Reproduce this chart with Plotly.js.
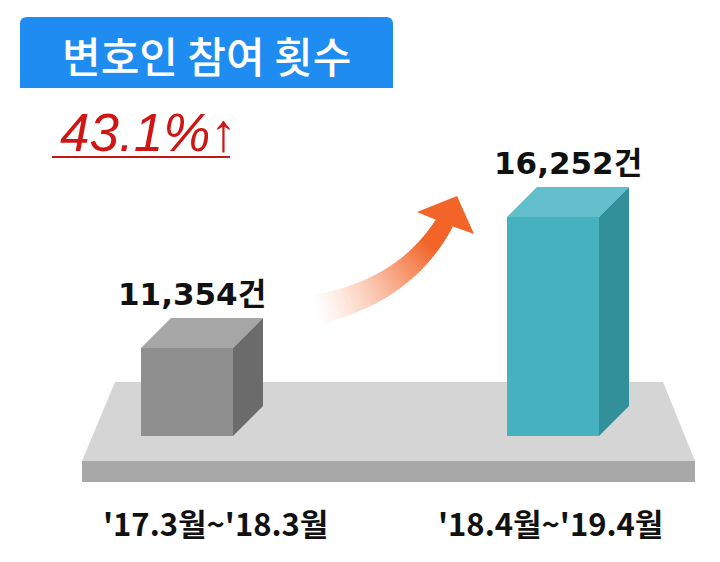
<!DOCTYPE html>
<html>
<head>
<meta charset="utf-8">
<script src="https://cdn.plot.ly/plotly-3.0.1.min.js"></script>
<style>html,body{margin:0;padding:0;background:#fff}#chart{width:720px;height:562px}</style>
</head>
<body>
<div id="chart"></div>
<script>
// ---- data ----
const categories = ["'17.3월~'18.3월", "'18.4월~'19.4월"];
const counts = [11354, 16252];
const unit = '건';
const titleText = '변호인 참여 횟수';

// ---- layout constants (pixels) ----
const W = 720, H = 562;
const barCenterPx = [187, 553];
const pxPerUnitX = barCenterPx[1] - barCenterPx[0];
const barWidthPx = 92;
const depthPx = 30;
const baseValue = 8064, basePx = 436, unitsPerPx = 37.39;
const frontColors = ['#8f8f8f', '#46b1bf'];
const topColors = ['#a6a6a6', '#63bfcb'];
const sideColors = ['#6b6b6b', '#32909a'];
const labelShiftPx = [28, -3];
const valueShiftPx = [-10, 0];

const px = x => x / W, py = y => 1 - y / H;
const xRange = [-barCenterPx[0] / pxPerUnitX, (W - barCenterPx[0]) / pxPerUnitX];
const yRange = [baseValue - (H - basePx) * unitsPerPx, baseValue + basePx * unitsPerPx];
const bw = barWidthPx / pxPerUnitX, dxU = depthPx / pxPerUnitX, dyU = depthPx * unitsPerPx;
const xs = categories.map((c, i) => i);

const traces = [{
  type: 'bar', x: xs, y: counts.map(v => v - baseValue), base: counts.map(() => baseValue),
  width: bw, marker: {color: frontColors, line: {width: 0}},
  customdata: counts, hovertemplate: '%{customdata:,}' + unit + '<extra></extra>'
}];
counts.forEach((v, i) => {
  const l = i - bw / 2, r = i + bw / 2;
  traces.push({type: 'scatter', mode: 'lines', fill: 'toself', fillcolor: topColors[i], line: {width: 0},
    x: [l, r, r + dxU, l + dxU, l], y: [v, v, v + dyU, v + dyU, v], hoverinfo: 'skip'});
  traces.push({type: 'scatter', mode: 'lines', fill: 'toself', fillcolor: sideColors[i], line: {width: 0},
    x: [r, r, r + dxU, r + dxU, r], y: [baseValue, v, v + dyU, baseValue + dyU, baseValue], hoverinfo: 'skip'});
});

// ---- decorative shapes ----
const P = pts => 'M' + pts.map(p => px(p[0]) + ',' + py(p[1])).join(' L') + ' Z';
const shapes = [];
shapes.push({type: 'path', xref: 'paper', yref: 'paper', layer: 'below', line: {width: 0}, fillcolor: '#1f8cf2',
  path: `M${px(20)},${py(88)} L${px(20)},${py(24)} Q${px(20)},${py(17)} ${px(27)},${py(17)} L${px(386)},${py(17)} Q${px(393)},${py(17)} ${px(393)},${py(24)} L${px(393)},${py(88)} Z`});
shapes.push({type: 'path', xref: 'paper', yref: 'paper', layer: 'below', line: {width: 0}, fillcolor: '#d5d5d5',
  path: P([[115, 382], [663, 382], [695, 461], [82, 461]])});
shapes.push({type: 'path', xref: 'paper', yref: 'paper', layer: 'below', line: {width: 0}, fillcolor: '#a8a8a8',
  path: P([[82, 461], [695, 461], [695, 482], [82, 482]])});
shapes.push({type: 'line', xref: 'paper', yref: 'paper', x0: px(52), x1: px(230), y0: py(157), y1: py(157),
  line: {color: '#c01818', width: 2}});
(function () {
  const P0 = [314, 310], P1 = [405, 292], P2 = [445, 222];
  const N = 60;
  const pt = t => [(1 - t) * (1 - t) * P0[0] + 2 * (1 - t) * t * P1[0] + t * t * P2[0],
                   (1 - t) * (1 - t) * P0[1] + 2 * (1 - t) * t * P1[1] + t * t * P2[1]];
  const tan = t => { const a = [2 * (1 - t) * (P1[0] - P0[0]) + 2 * t * (P2[0] - P1[0]), 2 * (1 - t) * (P1[1] - P0[1]) + 2 * t * (P2[1] - P1[1])];
    const n = Math.hypot(a[0], a[1]); return [a[0] / n, a[1] / n]; };
  const edge = t => { const c = pt(t), d = tan(t), w = (30 - 12 * t) / 2, nx = -d[1], ny = d[0];
    return [[c[0] + nx * w, c[1] + ny * w], [c[0] - nx * w, c[1] - ny * w]]; };
  const c1 = [242, 100, 40];
  for (let k = 0; k < N; k++) {
    const t0 = k / N, t1 = Math.min(1, (k + 1.6) / N), tm = (k + 0.5) / N;
    const e0 = edge(t0), e1 = edge(t1);
    const a = Math.min(1, Math.pow(tm, 1.2) * 1.25);
    const col = c1.map(v => Math.round(255 + (v - 255) * a));
    shapes.push({type: 'path', xref: 'paper', yref: 'paper', layer: 'below', line: {width: 0},
      fillcolor: `rgb(${col[0]},${col[1]},${col[2]})`,
      path: P([e0[0], e1[0], e1[1], e0[1]])});
  }
  shapes.push({type: 'path', xref: 'paper', yref: 'paper', layer: 'below', line: {width: 0}, fillcolor: 'rgb(242,100,40)',
    path: P([[457, 196], [474, 234], [446, 224], [417, 212]])});
})();

// ---- text ----
const growth = ((counts[1] / counts[0] - 1) * 100).toFixed(1);
const annotations = [
  {xref: 'paper', yref: 'paper', x: px(207), y: py(54), text: titleText, showarrow: false,
   font: {family: 'Noto Sans CJK KR', size: 42, color: '#ffffff', weight: 500}, xanchor: 'center', yanchor: 'middle'},
  {xref: 'paper', yref: 'paper', x: px(58), y: py(132), text: '<i>' + growth + '%↑</i>', showarrow: false,
   font: {family: 'Liberation Sans', size: 53, color: '#d01515'}, xanchor: 'left', yanchor: 'middle'}
];
counts.forEach((v, i) => {
  annotations.push({xref: 'x', yref: 'y', x: i + dxU / 2, xshift: valueShiftPx[i], y: v + dyU, yanchor: 'bottom', yshift: 4,
    text: '<b>' + v.toLocaleString('en-US') + unit + '</b>', showarrow: false,
    font: {family: 'DejaVu Sans, Noto Sans CJK KR', size: 31, color: '#111111'}});
  annotations.push({xref: 'x', yref: 'paper', x: i, xshift: labelShiftPx[i], y: py(522), yanchor: 'middle',
    text: '<b>' + categories[i] + '</b>', showarrow: false,
    font: {family: 'Noto Sans CJK KR', size: 31, color: '#111111'}});
});

const layout = {
  width: W, height: H, margin: {l: 0, r: 0, t: 0, b: 0},
  paper_bgcolor: '#ffffff', plot_bgcolor: 'rgba(0,0,0,0)', showlegend: false,
  xaxis: {range: xRange, visible: false, fixedrange: true},
  yaxis: {range: yRange, visible: false, fixedrange: true},
  shapes: shapes, annotations: annotations
};
Plotly.newPlot('chart', traces, layout, {displayModeBar: false, staticPlot: true});
</script>
</body>
</html>
